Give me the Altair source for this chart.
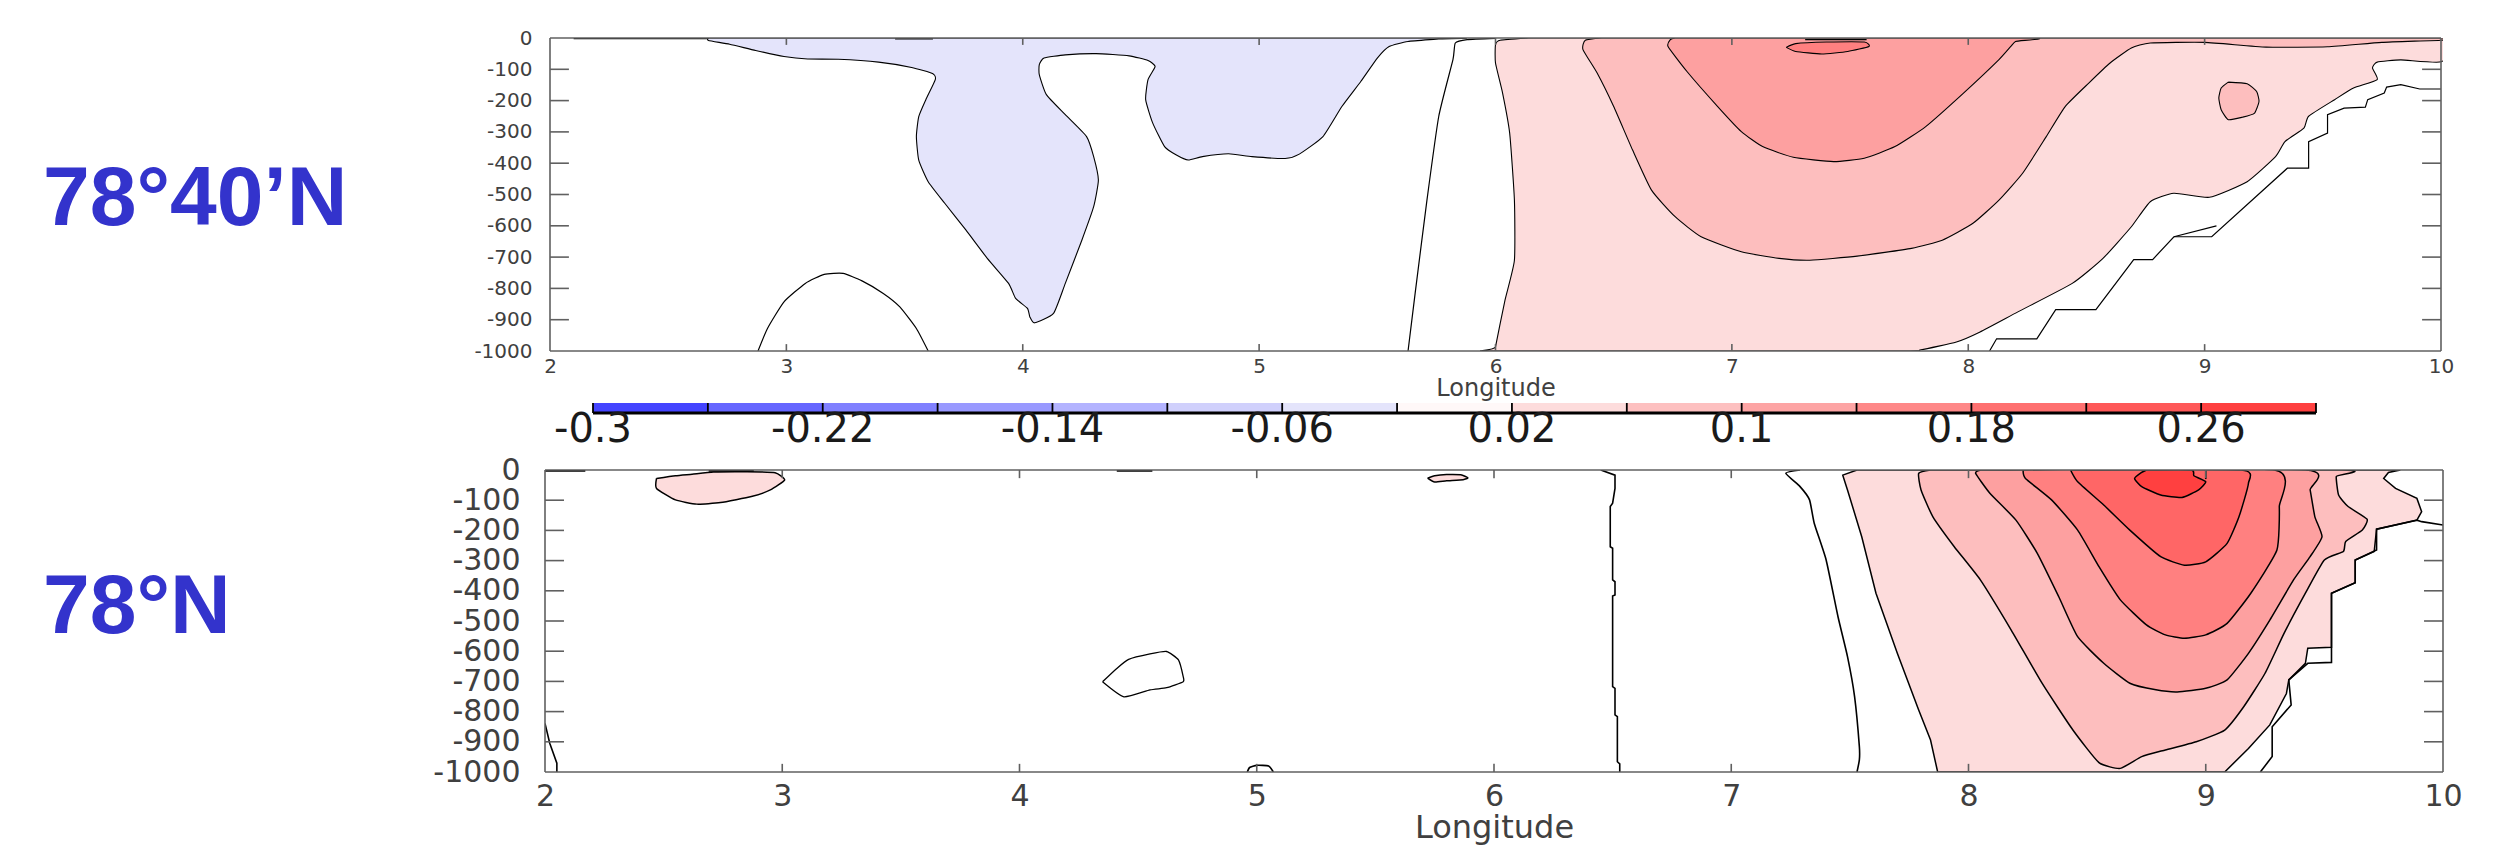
import altair as alt
import pandas as pd

LON_TICKS = [2, 3, 4, 5, 6, 7, 8, 9, 10]
DEPTH_TICKS = [0, -100, -200, -300, -400, -500, -600, -700, -800, -900, -1000]

BAND_BLUE = "#e4e4fb"
BAND_1 = "#fddcdc"
BAND_2 = "#fdbebe"
BAND_3 = "#fda0a0"
BAND_4 = "#ff8080"
BAND_5 = "#ff6666"
BAND_6 = "#ff4040"

CB_EDGES = [-0.3, -0.26, -0.22, -0.18, -0.14, -0.10, -0.06, -0.02, 0.02, 0.06, 0.10, 0.14, 0.18, 0.22, 0.26, 0.30]
CB_COLORS = ["#4444ff", "#6666ff", "#8080ff", "#9999ff", "#b3b3ff", "#d0d0fc", "#e4e4fb", "#fff8f8",
             "#fddcdc", "#fdc0c0", "#fda4a4", "#fe8888", "#fe7070", "#fe5858", "#fe4040"]
CB_LABEL_VALUES = [-0.3, -0.22, -0.14, -0.06, 0.02, 0.1, 0.18, 0.26]
CB_LABEL_TEXT = ["-0.3", "-0.22", "-0.14", "-0.06", "0.02", "0.1", "0.18", "0.26"]

# ---- 78 40'N contours (longitude, depth)
A_BLUE = [(2.67,0),(2.67,-8),(2.76,-20),(2.87,-40),(2.99,-59),(3.09,-67),(3.22,-68),(3.39,-77),(3.53,-94),(3.62,-114),
          (3.63,-133),(3.59,-197),(3.56,-251),(3.55,-315),(3.56,-390),(3.60,-459),(3.67,-528),(3.76,-614),(3.85,-704),
          (3.94,-784),(3.97,-832),(4.02,-864),(4.03,-891),(4.05,-910),(4.13,-880),(4.18,-784),(4.25,-646),(4.30,-539),
          (4.32,-454),(4.30,-379),(4.27,-315),(4.18,-245),(4.10,-181),(4.07,-117),(4.07,-85),(4.09,-64),(4.18,-54),
          (4.31,-50),(4.45,-57),(4.53,-72),(4.56,-91),(4.53,-133),(4.52,-197),(4.55,-272),(4.60,-347),(4.65,-374),
          (4.70,-390),(4.76,-379),(4.87,-370),(4.97,-379),(5.11,-385),(5.17,-371),(5.27,-315),(5.35,-219),(5.43,-139),
          (5.50,-64),(5.55,-27),(5.63,-11),(5.76,-3),(5.76,0)]
A_BAND1 = [(6.14,0),(6.02,-7),(6.0,-21),(6.0,-80),(6.03,-176),(6.06,-304),(6.08,-518),(6.08,-710),(6.04,-838),(6.0,-987),
           (6.0,-1000),(7.69,-1000),(7.80,-996),(7.95,-971),(8.05,-939),(8.21,-875),(8.44,-784),(8.57,-704),(8.69,-603),
           (8.77,-523),(8.87,-496),(9.02,-509),(9.18,-459),(9.30,-379),(9.34,-331),(9.42,-288),(9.44,-250),(9.55,-197),
           (9.63,-160),(9.73,-133),(9.71,-96),(9.73,-77),(9.83,-70),(10,-76),(10,0)]
A_BAND2 = [(6.45,0),(6.38,-7),(6.37,-37),(6.43,-112),(6.50,-219),(6.58,-358),(6.66,-486),(6.76,-571),(6.87,-635),(7.04,-683),
           (7.20,-704),(7.33,-710),(7.53,-697),(7.76,-672),(7.89,-646),(8.02,-592),(8.13,-518),(8.23,-432),(8.33,-315),
           (8.41,-219),(8.51,-144),(8.60,-80),(8.69,-32),(8.77,-16),(9.0,-14),(9.26,-29),(9.52,-28),(9.75,-14),(10,-7),(10,0)]
A_BAND2_OVAL = [(9.10,-141),(9.18,-146),(9.22,-171),(9.23,-203),(9.21,-241),(9.16,-253),(9.10,-261),(9.07,-229),(9.06,-192),(9.07,-160)]
A_BAND3 = [(6.76,0),(6.74,-5),(6.73,-27),(6.81,-107),(6.94,-219),(7.04,-299),(7.13,-347),(7.26,-381),(7.43,-395),(7.56,-384),
           (7.69,-347),(7.82,-283),(7.98,-176),(8.13,-69),(8.18,-27),(8.2,-11),(8.26,0)]
A_BAND4 = [(7.23,-30),(7.27,-18),(7.40,-13),(7.56,-13),(7.58,-27),(7.49,-43),(7.38,-51),(7.27,-43)]
A_CURVES = [
    [(5.63,-1000),(5.66,-816),(5.71,-518),(5.76,-250),(5.82,-69),(5.83,-16),(5.88,-5),(6.0,-1)],
    [(2.88,-1000),(2.92,-928),(2.99,-843),(3.08,-784),(3.16,-755),(3.24,-752),(3.32,-776),(3.41,-816),(3.48,-859),(3.55,-928),(3.60,-1000)],
]
A_LINES = [
    [(8.09,-1000),(8.12,-961),(8.29,-961),(8.37,-868),(8.54,-868),(8.70,-708),(8.78,-708),(8.87,-635),(9.03,-635),(9.35,-416),
     (9.44,-416),(9.44,-331),(9.52,-304),(9.52,-245),(9.59,-224),(9.68,-221),(9.69,-197),(9.76,-176),(9.77,-157),(9.83,-149),(9.91,-163),(10,-163)],
    [(8.87,-635),(9.05,-600)],
    [(2.1,-2),(2.67,-2)],
    [(3.46,-3),(3.62,-3)],
    [(7.31,-5),(7.57,-5)],
]

# ---- 78N contours (longitude, depth)
B_BLOB_LEFT = [(2.47,-28),(2.55,-19),(2.62,-14),(2.71,-7),(2.85,-6),(2.97,-9),(3.01,-33),(2.95,-66),(2.87,-88),(2.74,-108),(2.64,-113),(2.55,-99),(2.47,-61)]
B_BLOB_MID = [(5.72,-27),(5.75,-19),(5.80,-15),(5.86,-16),(5.89,-26),(5.87,-32),(5.80,-36),(5.75,-40)]
B_BAND1 = [(7.53,0),(7.47,-17),(7.49,-66),(7.55,-221),(7.61,-408),(7.70,-607),(7.79,-795),(7.84,-894),(7.87,-1000),(9.08,-1000),
           (9.18,-922),(9.27,-844),(9.34,-740),(9.35,-695),(9.42,-640),(9.43,-590),(9.53,-587),(9.53,-408),(9.63,-373),(9.63,-298),
           (9.71,-270),(9.72,-196),(9.89,-166),(9.91,-138),(9.89,-94),(9.80,-61),(9.75,-28),(9.77,-8),(9.82,0)]
B_BAND2 = [(7.84,0),(7.79,-11),(7.80,-66),(7.85,-155),(7.94,-254),(8.05,-364),(8.18,-530),(8.31,-706),(8.44,-861),(8.55,-969),
           (8.64,-988),(8.73,-949),(8.83,-927),(8.96,-900),(9.08,-861),(9.16,-784),(9.25,-673),(9.33,-541),(9.42,-408),(9.50,-298),
           (9.58,-270),(9.59,-237),(9.66,-199),(9.68,-163),(9.60,-121),(9.56,-83),(9.55,-22),(9.57,0)]
B_BAND3 = [(8.05,0),(8.03,-11),(8.09,-77),(8.20,-166),(8.29,-276),(8.38,-419),(8.46,-552),(8.57,-640),(8.68,-706),(8.79,-728),
           (8.88,-735),(9.0,-723),(9.09,-695),(9.18,-607),(9.27,-497),(9.37,-364),(9.44,-287),(9.49,-221),(9.46,-155),(9.44,-66),(9.42,0)]
B_BAND4 = [(8.23,0),(8.24,-28),(8.35,-99),(8.46,-199),(8.55,-320),(8.64,-430),(8.75,-513),(8.83,-546),(8.91,-557),(9.0,-546),
           (9.09,-508),(9.19,-408),(9.30,-265),(9.31,-121),(9.29,0)]
B_BAND5 = [(8.43,0),(8.46,-39),(8.57,-116),(8.68,-199),(8.81,-287),(8.91,-315),(9.0,-304),(9.09,-243),(9.14,-155),(9.18,-44),(9.15,0)]
B_BAND6 = [(8.75,0),(8.73,-8),(8.70,-28),(8.73,-55),(8.81,-83),(8.90,-91),(8.97,-66),(9.0,-39),(8.95,-19),(8.94,0)]
B_ISLAND = [(4.35,-701),(4.41,-657),(4.46,-627),(4.55,-609),(4.62,-601),(4.67,-629),(4.69,-684),(4.69,-701),(4.62,-721),(4.55,-728),(4.44,-751)]
B_CURVES = [
    [(7.29,0),(7.23,-11),(7.29,-55),(7.33,-99),(7.35,-177),(7.40,-298),(7.45,-486),(7.49,-618),(7.52,-751),(7.54,-916),(7.54,-960),(7.53,-1000)],
    [(4.96,-1000),(4.97,-985),(5.0,-978),(5.05,-980),(5.07,-1000)],
]
B_LINES = [
    [(6.45,0),(6.51,-17),(6.51,-61),(6.50,-110),(6.49,-121),(6.49,-254),(6.50,-259),(6.50,-364),(6.51,-370),(6.51,-414),(6.50,-417),
     (6.50,-717),(6.51,-723),(6.51,-811),(6.52,-817),(6.52,-966),(6.53,-973),(6.53,-1000)],
    [(9.23,-1000),(9.28,-949),(9.28,-850),(9.36,-778),(9.35,-695),(9.43,-640),(9.53,-637),(9.53,-408),(9.63,-373),(9.63,-298),
     (9.72,-265),(9.72,-196),(9.89,-166),(9.91,-171),(10,-182)],
    [(2.0,-839),(2.02,-905),(2.05,-971),(2.05,-1000)],
    [(9.0,0),(9.0,-30)],
    [(2.0,-3),(2.17,-3)],
    [(2.69,-3),(2.88,-3)],
    [(4.41,-3),(4.56,-3)],
]

LABEL_COLOR = "#404040"
FRAME_COLOR = "#606060"
FONT = "DejaVu Sans"


def axes(font_size, x_pad, y_pad, title_size, title_pad):
    xa = alt.Axis(values=LON_TICKS, title="Longitude", domain=False, ticks=False, grid=False, labelFont=FONT,
                  labelFontSize=font_size, labelColor=LABEL_COLOR, labelPadding=x_pad, labelExpr="'' + datum.value",
                  labelOverlap=False, labelFlush=False, labelBound=False, titleFont=FONT, titleFontSize=title_size,
                  titleFontWeight="normal", titleColor=LABEL_COLOR, titlePadding=title_pad)
    ya = alt.Axis(values=DEPTH_TICKS, title=None, domain=False, ticks=False, grid=False, labelFont=FONT,
                  labelFontSize=font_size, labelColor=LABEL_COLOR, labelPadding=y_pad, labelExpr="'' + datum.value",
                  labelOverlap=False, labelFlush=False, labelBound=False)
    return xa, ya


class Panel:
    def __init__(self, rng, height, axes_pair):
        self.rng = rng
        self.height = height
        self.xa, self.ya = axes_pair

    def x(self):
        return alt.X("lon:Q", scale=alt.Scale(domain=[2, 10], range=self.rng, nice=False, zero=False), axis=self.xa)

    def y(self):
        return alt.Y("depth:Q", scale=alt.Scale(domain=[-1000, 0], range=[self.height, 0], nice=False, zero=False), axis=self.ya)

    def path(self, points, width, fill=None, smooth=False):
        pts = list(points)
        if fill:
            pts = pts + [pts[0]]
        df = pd.DataFrame({"lon": [p[0] for p in pts], "depth": [p[1] for p in pts], "ord": list(range(len(pts)))})
        kw = dict(stroke="black", strokeWidth=width, clip=True, strokeJoin="miter")
        if smooth:
            kw.update(interpolate="cardinal", tension=0.5)
        else:
            kw.update(interpolate="linear")
        if fill:
            kw["fill"] = fill
        return alt.Chart(df).mark_line(**kw).encode(x=self.x(), y=self.y(), order=alt.Order("ord:Q"))

    def frame(self, lon_len, depth_len):
        segs = [(2, 0, 10, 0), (2, -1000, 10, -1000), (2, -1000, 2, 0), (10, -1000, 10, 0)]
        for d in DEPTH_TICKS[1:-1]:
            segs += [(2, d, 2 + lon_len, d), (10 - lon_len, d, 10, d)]
        for l in LON_TICKS[1:-1]:
            segs += [(l, 0, l, -depth_len), (l, -1000, l, -1000 + depth_len)]
        df = pd.DataFrame(segs, columns=["lon", "depth", "lon2", "depth2"])
        return alt.Chart(df).mark_rule(color=FRAME_COLOR, strokeWidth=1.6).encode(
            x=self.x(), x2="lon2:Q", y=self.y(), y2="depth2:Q"
        )


def big_label(text, x, y):
    return alt.Chart(pd.DataFrame({"t": [text]})).mark_text(
        font="Liberation Sans", fontWeight="bold", fontSize=84, color="#3333cc", align="left", baseline="alphabetic"
    ).encode(x=alt.value(x), y=alt.value(y), text="t:N")


WIDTH = 1898
# ---- top panel
H1 = 313
P1 = Panel([5, 1896], H1, axes(20, 5, 13, 24, 0))
layers1 = [
    P1.path(A_BLUE, 1.1, BAND_BLUE, True),
    P1.path(A_BAND1, 1.1, BAND_1, True),
    P1.path(A_BAND2, 1.1, BAND_2, True),
    P1.path(A_BAND2_OVAL, 1.1, BAND_2, True),
    P1.path(A_BAND3, 1.1, BAND_3, True),
    P1.path(A_BAND4, 1.1, BAND_4, True),
] + [P1.path(l, 1.2, smooth=True) for l in A_CURVES] + [P1.path(l, 1.2) for l in A_LINES] + [
    P1.frame(0.08, 22),
    big_label("78°40’N", -502, 187),
]
top = alt.layer(*layers1).properties(width=WIDTH, height=H1)

# ---- colour bar
H_MID = 119
RC = [48, 1771]
cb_df = pd.DataFrame({"a": CB_EDGES[:-1], "b": CB_EDGES[1:], "c": CB_COLORS})
cb_x = alt.X("a:Q", scale=alt.Scale(domain=[-0.3, 0.3], range=RC, nice=False, zero=False), axis=None)
cb_rects = alt.Chart(cb_df).mark_rect().encode(
    x=cb_x, x2="b:Q", y=alt.value(52), y2=alt.value(62), color=alt.Color("c:N", scale=None)
)
cb_ticks = alt.Chart(pd.DataFrame({"a": CB_EDGES})).mark_rule(color="black", strokeWidth=1.8).encode(
    x=cb_x, y=alt.value(52), y2=alt.value(62)
)
cb_line = alt.Chart(pd.DataFrame({"a": [CB_EDGES[0]], "b": [CB_EDGES[-1]]})).mark_rule(color="black", strokeWidth=3).encode(
    x=cb_x, x2="b:Q", y=alt.value(62)
)
cb_text = alt.Chart(pd.DataFrame({"a": CB_LABEL_VALUES, "t": CB_LABEL_TEXT})).mark_text(
    font=FONT, fontSize=40, color="#1a1a1a", align="center", baseline="alphabetic"
).encode(x=cb_x, y=alt.value(91), text="t:N")
mid = alt.layer(cb_rects, cb_ticks, cb_line, cb_text).properties(width=WIDTH, height=H_MID)

# ---- bottom panel
H2 = 302
P2 = Panel([0, 1898], H2, axes(30, 9, 25, 32, 1))
layers2 = [
    P2.path(B_BLOB_LEFT, 1.5, BAND_1, True),
    P2.path(B_BLOB_MID, 1.5, BAND_1, True),
    P2.path(B_BAND1, 1.5, BAND_1),
    P2.path(B_BAND2, 1.5, BAND_2, True),
    P2.path(B_BAND3, 1.5, BAND_3, True),
    P2.path(B_BAND4, 1.5, BAND_4, True),
    P2.path(B_BAND5, 1.5, BAND_5, True),
    P2.path(B_BAND6, 1.5, BAND_6, True),
    P2.path(B_ISLAND, 1.3, "#ffffff", True),
] + [P2.path(l, 1.6, smooth=True) for l in B_CURVES] + [P2.path(l, 1.6) for l in B_LINES] + [
    P2.frame(0.08, 27),
    big_label("78°N", -502, 163),
]
bottom = alt.layer(*layers2).properties(width=WIDTH, height=H2)

chart = (
    alt.vconcat(top, mid, bottom, spacing=0, bounds="flush")
    .properties(padding={"left": 35, "top": 20, "right": 0, "bottom": 2}, background="white")
    .configure_view(strokeWidth=0)
)

chart.save("out.html", embed_options={"renderer": "svg", "actions": False})
